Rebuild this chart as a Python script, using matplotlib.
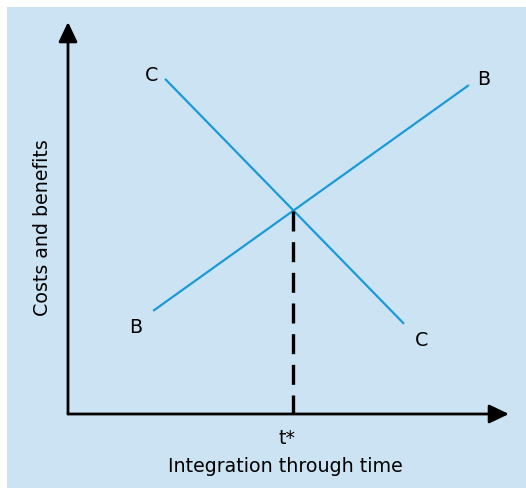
import matplotlib
matplotlib.use("Agg")
import matplotlib.pyplot as plt
from matplotlib.patches import Rectangle
import numpy as np

# Conceptual data (axis units 0..10)
cost_x = [2.2, 7.62]
cost_y = [8.55, 2.30]
benefit_x = [1.93, 9.09]
benefit_y = [2.63, 8.39]
line_labels = ["C", "B"]
x_label = "Integration through time"
y_label = "Costs and benefits"
t_label = "t*"

W, H = 526, 489
fig = plt.figure(figsize=(W / 100, H / 100), dpi=100)
fig.patch.set_facecolor("white")
bg = "#cce3f4"
fig.patches.append(Rectangle((7 / W, 0), 1, (H - 8) / H, transform=fig.transFigure,
                             facecolor=bg, edgecolor="none", zorder=-10))

# axes origin at pixel (68, 415), extent to arrow tips (509, 23)
ax = fig.add_axes([68 / W, (H - 415) / H, (509 - 68) / W, (415 - 23) / H])
ax.set_zorder(5)
ax.set_xlim(0, 10)
ax.set_ylim(0, 10)
ax.patch.set_visible(False)
for s in ax.spines.values():
    s.set_visible(False)
ax.set_xticks([])
ax.set_yticks([])

font = ["DejaVu Sans"]
blue = "#1a9bd7"

# axes arrows
arrow = dict(arrowstyle="-|>,head_length=0.8,head_width=0.38", color="black", lw=2,
             mutation_scale=15, shrinkA=0, shrinkB=0)
ax.annotate("", xy=(10, 0), xytext=(0, 0), xycoords="data", arrowprops=arrow, annotation_clip=False)
ax.annotate("", xy=(0, 10), xytext=(0, 0), xycoords="data", arrowprops=arrow, annotation_clip=False)

ax.plot(cost_x, cost_y, color=blue, lw=1.6, solid_capstyle="butt")
ax.plot(benefit_x, benefit_y, color=blue, lw=1.6, solid_capstyle="butt")

# intersection
m1 = (cost_y[1] - cost_y[0]) / (cost_x[1] - cost_x[0])
m2 = (benefit_y[1] - benefit_y[0]) / (benefit_x[1] - benefit_x[0])
xi = (benefit_y[0] - cost_y[0] + m1 * cost_x[0] - m2 * benefit_x[0]) / (m1 - m2)
yi = cost_y[0] + m1 * (xi - cost_x[0])
ax.plot([xi, xi], [yi, 0], color="black", lw=2.4, dashes=(6, 3.2), solid_capstyle="butt")

fs = 13.7
ax.text(cost_x[0] - 0.3, cost_y[0] + 0.1, line_labels[0], fontsize=fs, family=font, ha="center", va="center")
ax.text(cost_x[1] + 0.4, cost_y[1] - 0.4, line_labels[0], fontsize=fs, family=font, ha="center", va="center")
ax.text(benefit_x[1] + 0.34, benefit_y[1] + 0.16, line_labels[1], fontsize=fs, family=font, ha="center", va="center")
ax.text(benefit_x[0] - 0.39, benefit_y[0] - 0.41, line_labels[1], fontsize=fs, family=font, ha="center", va="center")

ax.text(xi - 0.14, -0.6, t_label, fontsize=fs, family=font, ha="center", va="center", clip_on=False)
ax.text(4.92, -1.32, x_label, fontsize=fs, family=font, ha="center", va="center", clip_on=False)
ax.text(-0.57, 4.77, y_label, fontsize=fs, family=font, ha="center", va="center", rotation=90, clip_on=False)

fig.savefig("out.png", dpi=100)
